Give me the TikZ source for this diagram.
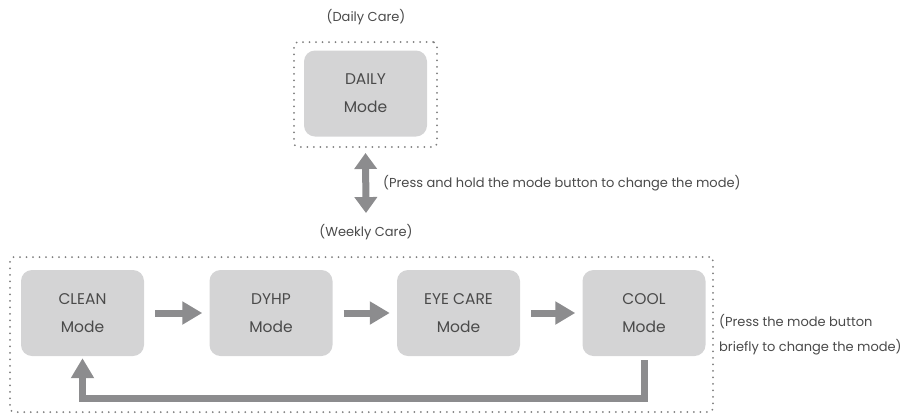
\documentclass[tikz,border=0pt]{standalone}
\usepackage{fontspec}
\setmainfont{Poppins}
\usetikzlibrary{arrows.meta,calc}
\definecolor{boxfill}{HTML}{D4D4D5}
\definecolor{txt}{HTML}{4A4A4A}
\definecolor{arr}{HTML}{8C8C8E}
\definecolor{dots}{HTML}{7E7E7E}
\tikzset{
  modebox/.style={fill=boxfill, rounded corners=11pt, minimum width=123pt, minimum height=86pt,
    inner sep=0pt, align=center, text=txt, font=\fontsize{15.5}{28}\selectfont},
  frame/.style={draw=dots, line width=2pt, dash pattern=on 0pt off 6.5pt, line cap=round,
    rounded corners=4pt, inner sep=0pt},
  lbl/.style={text=txt, inner sep=0pt, font=\fontsize{13}{25}\selectfont},
  flow/.style={draw=arr, line width=7pt, -{Triangle[width=22pt,length=20pt]}},
  dflow/.style={draw=arr, line width=7pt, {Triangle[width=22pt,length=16pt]}-{Triangle[width=22pt,length=16pt]}},
}
\begin{document}
\begin{tikzpicture}[x=1pt,y=-1pt]
\useasboundingbox (0,0) rectangle (913,416);
% frames
\node[frame, minimum width=143pt, minimum height=105pt] (dframe) at (365.5,94.5) {};
\node[frame, minimum width=703pt, minimum height=155pt] (wframe) at (361.5,334.5) {};
% labels
\node[lbl] (dlabel) at (366,17) {(Daily Care)};
\node[lbl] (wlabel) at (366,232) {(Weekly Care)};
\node[lbl, anchor=west] (hold) at (383,183) {(Press and hold the mode button to change the mode)};
\node[lbl, anchor=west, align=left] (brief) at (719,335) {(Press the mode button\\briefly to change the mode)};
% boxes
\node[modebox] (daily) at (365.5,93.5) {DAILY\\Mode};
\node[modebox] (clean) at (82.5,313) {CLEAN\\Mode};
\node[modebox] (dyhp) at (271,313) {DYHP\\Mode};
\node[modebox] (eye) at (458.5,313) {EYE CARE\\Mode};
\node[modebox] (cool) at (644,313) {COOL\\Mode};
% arrows
\draw[dflow] ([yshift=-5pt]dframe.south) -- ([yshift=11pt]wlabel.north);
\draw[flow] ([xshift=11pt]clean.east) -- ([xshift=-7pt]dyhp.west);
\draw[flow] ([xshift=11pt]dyhp.east) -- ([xshift=-7pt]eye.west);
\draw[flow] ([xshift=11pt]eye.east) -- ([xshift=-7pt]cool.west);
\coordinate (turn) at ($(cool.south)+(0,42)$);
\draw[flow] ([yshift=-4pt]cool.south) -- (turn) -| ([yshift=-2pt]clean.south);
\end{tikzpicture}
\end{document}
